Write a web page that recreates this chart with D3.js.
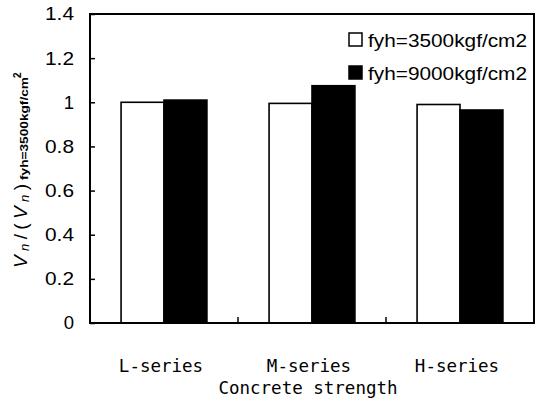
<!DOCTYPE html>
<html><head><meta charset="utf-8">
<script src="https://cdn.jsdelivr.net/npm/d3@7"></script>
<style>body{margin:0;background:#fff}</style>
</head><body>
<svg id="c" width="536" height="401"></svg>
<script>
const categories = ["L-series", "M-series", "H-series"];
const seriesNames = ["fyh=3500kgf/cm2", "fyh=9000kgf/cm2"];
const values3500 = [1.00, 0.995, 0.99];
const values9000 = [1.01, 1.075, 0.965];
const yTicks = [0, 0.2, 0.4, 0.6, 0.8, 1, 1.2, 1.4];
const xTitle = "Concrete strength";
const fills = ["#ffffff", "#000000"];

const svg = d3.select("#c");
const L = 90, R = 534, T = 14, B = 323;
const x0 = d3.scaleBand().domain(categories).range([L, R]).paddingInner(0.42).paddingOuter(0.21);
const x1 = d3.scaleBand().domain([0, 1]).range([0, x0.bandwidth()]);
const y = d3.scaleLinear().domain([0, 1.4]).range([B, T]);

const data = categories.map((c, i) => ({cat: c, vals: [values3500[i], values9000[i]]}));

// bars
const g = svg.append("g");
data.forEach(d => {
  d.vals.forEach((v, k) => {
    g.append("rect")
      .attr("x", x0(d.cat) + x1(k))
      .attr("y", y(v))
      .attr("width", x1.bandwidth())
      .attr("height", y(0) - y(v))
      .attr("fill", fills[k])
      .attr("stroke", "#000")
      .attr("stroke-width", 1.6);
  });
});

// frame
svg.append("rect").attr("x", L).attr("y", T).attr("width", R - L).attr("height", B - T)
  .attr("fill", "none").attr("stroke", "#000").attr("stroke-width", 2);

// y axis
const sans = "Liberation Sans, Arial, sans-serif";
const ya = d3.axisLeft(y).tickValues(yTicks).tickSize(-5).tickPadding(16)
  .tickFormat(d => d === 0 || d === 1 ? String(d) : d3.format(".1f")(d));
const yg = svg.append("g").attr("transform", `translate(${L},0)`).call(ya);
yg.select(".domain").remove();
yg.selectAll("line").attr("stroke", "#000").attr("stroke-width", 1.5);
yg.selectAll("text").attr("font-family", sans).attr("font-size", 18.5).attr("fill", "#000")
  .each(function(d) {
    if (String(d).length > 1) d3.select(this).attr("textLength", 29).attr("lengthAdjust", "spacingAndGlyphs");
  });

// x boundary ticks
const bounds = categories.slice(1).map(c => x0(c) - x0.step() * x0.paddingInner() / 2);
svg.selectAll(".bt").data(bounds).enter().append("line")
  .attr("x1", d => d).attr("x2", d => d).attr("y1", B).attr("y2", B - 6)
  .attr("stroke", "#000").attr("stroke-width", 1.5);

// x labels
const mono = "DejaVu Sans Mono, monospace";
svg.selectAll(".xl").data(categories).enter().append("text")
  .attr("x", d => x0(d) + x0.bandwidth() / 2 - 3).attr("y", 372)
  .attr("text-anchor", "middle").attr("font-family", mono).attr("font-size", 17.5)
  .text(d => d);
svg.append("text").attr("x", 308).attr("y", 394).attr("text-anchor", "middle")
  .attr("font-family", mono).attr("font-size", 17.5).text(xTitle);

// legend
const lg = svg.append("g");
seriesNames.forEach((s, k) => {
  const yy = 40 + k * 33;
  lg.append("rect").attr("x", 349).attr("y", yy - 7).attr("width", 13).attr("height", 13)
    .attr("fill", fills[k]).attr("stroke", "#000").attr("stroke-width", 1.5);
  lg.append("text").attr("x", 368).attr("y", yy + 7).attr("font-family", sans)
    .attr("font-size", 19).attr("textLength", 159).attr("lengthAdjust", "spacingAndGlyphs").text(s);
});

// y title
const yt = svg.append("text").attr("transform", "translate(27,268) rotate(-90)")
  .attr("font-family", sans).attr("font-size", 19).attr("textLength", 84).attr("lengthAdjust", "spacing");
yt.append("tspan").attr("font-style", "italic").text("V");
yt.append("tspan").attr("font-style", "italic").attr("font-size", 13).attr("dy", 2).text("n");
yt.append("tspan").attr("dy", -2).text("/(");
yt.append("tspan").attr("font-style", "italic").text("V");
yt.append("tspan").attr("font-style", "italic").attr("font-size", 13).attr("dy", 2).text("n");
yt.append("tspan").attr("dy", -2).text(")");
svg.append("text").attr("transform", "translate(28,180) rotate(-90)")
  .attr("font-family", sans).attr("font-size", 11.5).attr("font-weight", "bold")
  .attr("textLength", 103).attr("lengthAdjust", "spacingAndGlyphs").text("fyh=3500kgf/cm");
svg.append("text").attr("transform", "translate(21,78) rotate(-90)")
  .attr("font-family", sans).attr("font-size", 10).attr("font-weight", "bold").text("2");
</script>
</body></html>
